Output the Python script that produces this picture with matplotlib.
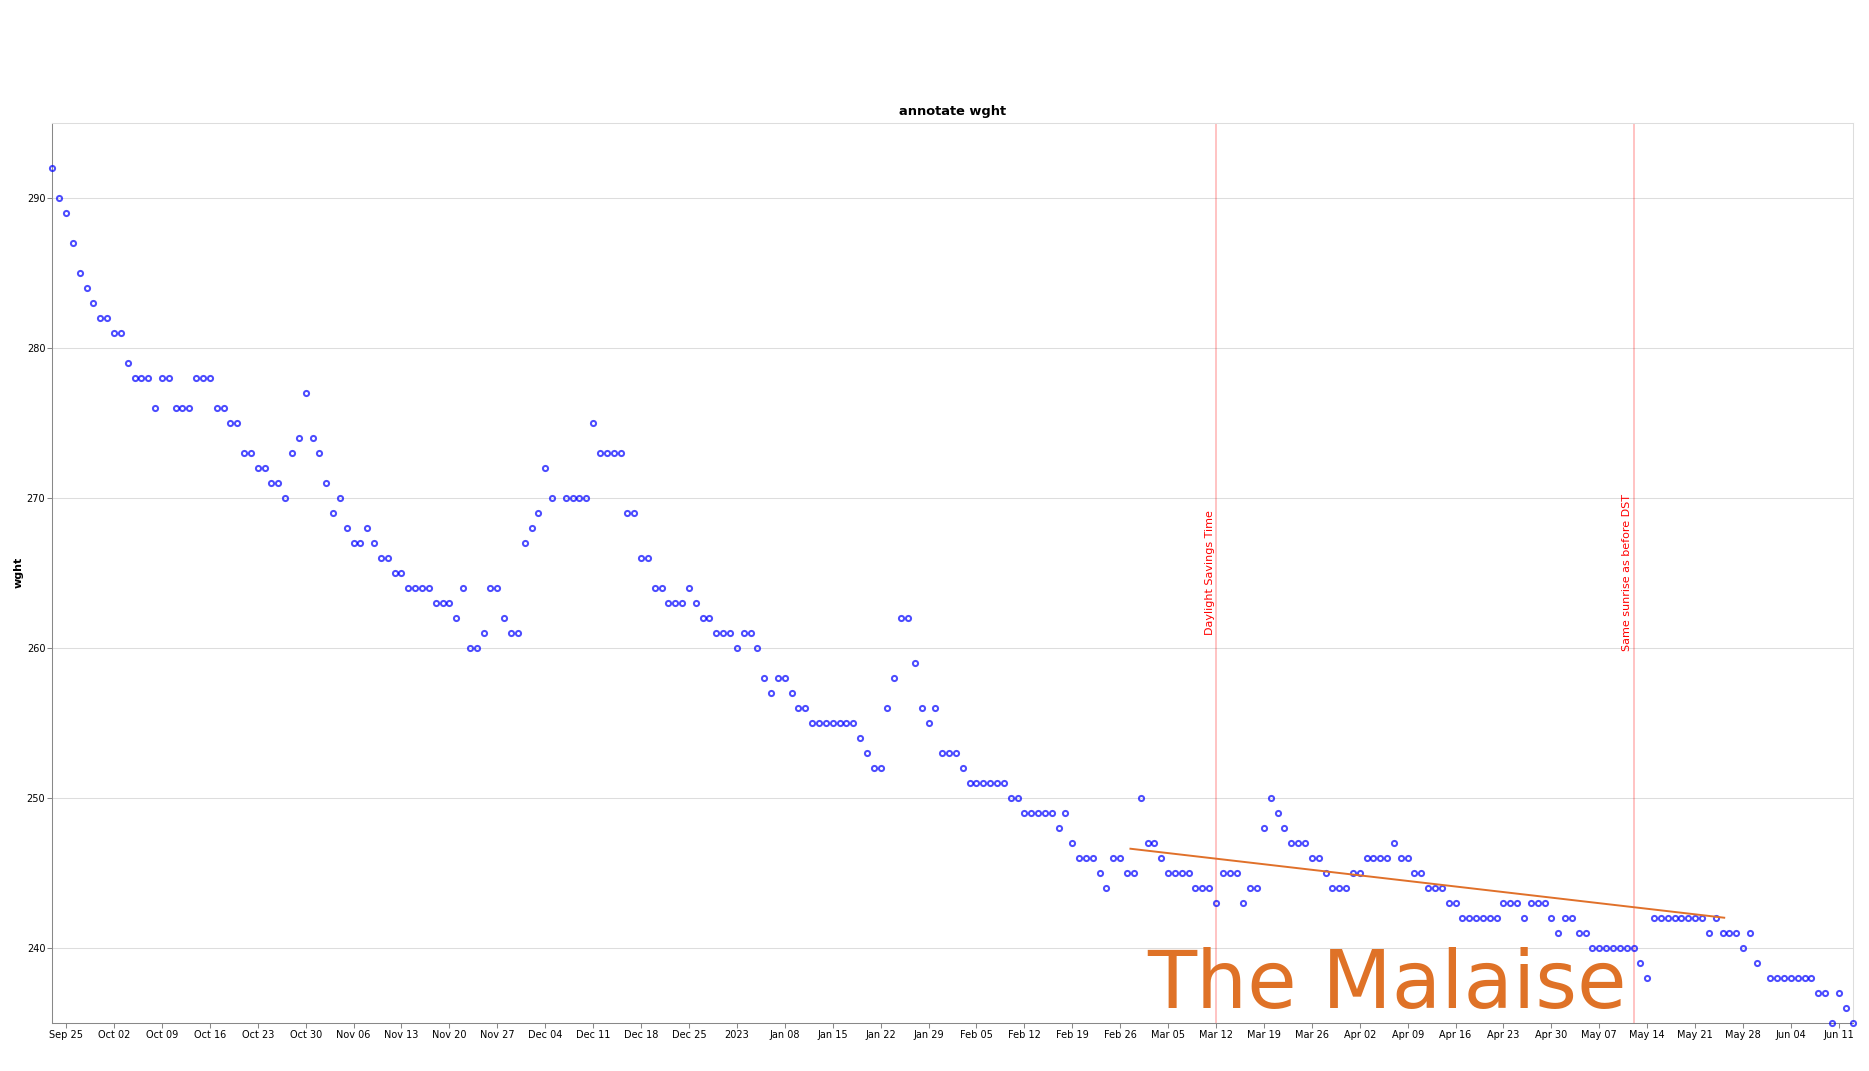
import matplotlib
matplotlib.use('Agg')
import matplotlib.pyplot as plt
import matplotlib.dates as mdates
from matplotlib.ticker import FuncFormatter
import numpy as np
import pandas as pd

# daily weigh-ins, None = no reading that day
start_date = '2022-09-23'
end_date = '2023-06-13'
wght = [
    292, 290, 289, 287, 285, 284, 283, 282, 282, 281,
    281, 279, 278, 278, 278, 276, 278, 278, 276, 276,
    276, 278, 278, 278, 276, 276, 275, 275, 273, 273,
    272, 272, 271, 271, 270, 273, 274, 277, 274, 273,
    271, 269, 270, 268, 267, 267, 268, 267, 266, 266,
    265, 265, 264, 264, 264, 264, 263, 263, 263, 262,
    264, 260, 260, 261, 264, 264, 262, 261, 261, 267,
    268, 269, 272, 270, None, 270, 270, 270, 270, 275,
    273, 273, 273, 273, 269, 269, 266, 266, 264, 264,
    263, 263, 263, 264, 263, 262, 262, 261, 261, 261,
    260, 261, 261, 260, 258, 257, 258, 258, 257, 256,
    256, 255, 255, 255, 255, 255, 255, 255, 254, 253,
    252, 252, 256, 258, 262, 262, 259, 256, 255, 256,
    253, 253, 253, 252, 251, 251, 251, 251, 251, 251,
    250, 250, 249, 249, 249, 249, 249, 248, 249, 247,
    246, 246, 246, 245, 244, 246, 246, 245, 245, 250,
    247, 247, 246, 245, 245, 245, 245, 244, 244, 244,
    243, 245, 245, 245, 243, 244, 244, 248, 250, 249,
    248, 247, 247, 247, 246, 246, 245, 244, 244, 244,
    245, 245, 246, 246, 246, 246, 247, 246, 246, 245,
    245, 244, 244, 244, 243, 243, 242, 242, 242, 242,
    242, 242, 243, 243, 243, 242, 243, 243, 243, 242,
    241, 242, 242, 241, 241, 240, 240, 240, 240, 240,
    240, 240, 239, 238, 242, 242, 242, 242, 242, 242,
    242, 242, 241, 242, 241, 241, 241, 240, 241, 239,
    None, 238, 238, 238, 238, 238, 238, 238, 237, 237,
    235, 237, 236, 235,
]

event_dates = ['2023-03-12', '2023-05-12']
event_labels = ['Daylight Savings Time', 'Same sunrise as before DST']
event_label_y = 265

trend_dates = ['2023-02-27 12:00', '2023-05-25 06:00']
trend_wght = [246.6, 242.0]

note_text = 'The Malaise'
note_date = '2023-03-02'
note_y = 236

dates = pd.date_range(start_date, end_date, freq='D')
df = pd.DataFrame({'date': dates, 'wght': wght}).dropna()

fig = plt.figure(figsize=(18.69, 10.71), dpi=100)
ax = fig.add_axes([0.02804, 0.0451, 0.96316, 0.8402])

ax.plot(df['date'], df['wght'], 'o', mfc='none', mec='blue', alpha=0.7,
        ms=3.7, mew=1.45, zorder=3, clip_on=False)

for d, lab in zip(event_dates, event_labels):
    d = pd.Timestamp(d)
    ax.axvline(d, color='red', alpha=0.3, lw=1.1, zorder=2)
    ax.annotate(lab, xy=(d, event_label_y), xytext=(-1, 0),
                textcoords='offset points', rotation=90,
                ha='right', va='center', color='red', fontsize=8)

ax.plot(pd.to_datetime(trend_dates), trend_wght, color='#e0702a', lw=1.4, zorder=4)

ax.text(pd.Timestamp(note_date), note_y, note_text, fontsize=58,
        color='#df7227', ha='left', va='baseline', zorder=5)

ax.set_xlim(pd.Timestamp(start_date), pd.Timestamp(end_date))
ax.set_ylim(235, 295)
ax.set_yticks(np.arange(240, 291, 10))

ax.xaxis.set_major_locator(mdates.WeekdayLocator(byweekday=mdates.SU))
def fmt_date(x, pos):
    d = mdates.num2date(x)
    if d.month == 1 and d.day == 1:
        return str(d.year)
    return d.strftime('%b %d')
ax.xaxis.set_major_formatter(FuncFormatter(fmt_date))

ax.yaxis.grid(True, color='#dddddd', lw=0.75)
ax.set_axisbelow(True)
for s in ['left', 'bottom']:
    ax.spines[s].set_color('#888888')
    ax.spines[s].set_linewidth(0.75)
for s in ['top', 'right']:
    ax.spines[s].set_color('#dddddd')
    ax.spines[s].set_linewidth(0.75)
ax.tick_params(length=3.6, width=0.75, color='#888888', labelsize=7, pad=1.5)

ax.set_ylabel('wght', fontweight='bold', fontsize=8)
ax.yaxis.set_label_coords(-0.016, 0.5)
ax.set_title('annotate wght', fontweight='bold', fontsize=9.4, pad=6)

fig.savefig('out.png', dpi=100)
